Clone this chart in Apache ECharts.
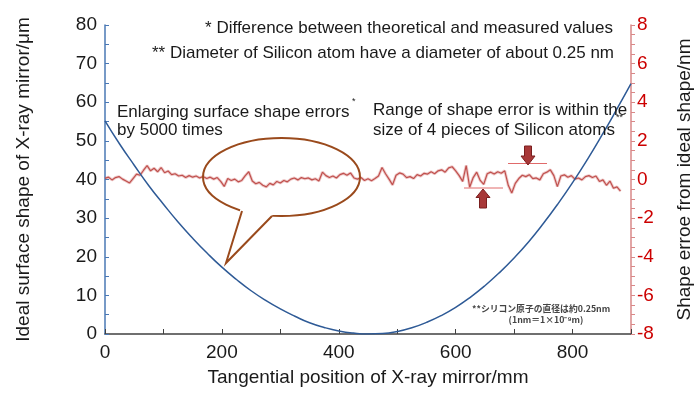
<!DOCTYPE html>
<html>
<head>
<meta charset="utf-8">
<script src="https://cdn.jsdelivr.net/npm/echarts@6/dist/echarts.min.js"></script>
<style>
  html, body { margin: 0; padding: 0; background: #fff; }
  #main { width: 694px; height: 396px; }
</style>
</head>
<body>
<div id="main"></div>
<script>
// ideal mirror shape (um)
const shapePos = [0, 25, 50, 75, 100, 125, 150, 175, 200, 225, 250, 275, 300, 325, 350, 375, 400, 425, 450,
  475, 500, 525, 550, 575, 600, 625, 650, 675, 700, 725, 750, 775, 800, 825, 850, 875, 900];
const idealShape = [55.2, 49.2, 43.7, 38.4, 33.6, 29.0, 24.8, 20.9, 17.3, 14.1, 11.2, 8.7, 6.5, 4.6, 2.9, 1.7, 0.8, 0.25, 0.0,
  0.12, 0.65, 1.6, 3.0, 4.75, 6.9, 9.5, 12.5, 15.9, 19.7, 23.9, 28.6, 33.7, 39.2, 45.1, 51.4, 58.0, 64.8];

// shape error (nm), one reading every 6 mm starting at 0
const errStep = 6;
const shapeError = [
  0.06, 0.12, -0.02, 0.10, 0.15, 0.02, -0.08, -0.18, 0.05, 0.28, 0.22, 0.48, 0.72, 0.45, 0.58, 0.40, 0.62, 0.35, 0.44, 0.25,
  0.30, 0.18, 0.22, 0.10, 0.20, 0.12, 0.18, 0.08, 0.16, 0.05, 0.12, 0.02, 0.10, -0.10, -0.36, 0.05, -0.05, 0.02, -0.12, -0.05,
  0.20, 0.40, -0.08, -0.22, -0.15, -0.30, -0.38, -0.20, -0.28, -0.10, -0.18, -0.05, -0.12, 0.02, 0.08, -0.02, 0.10, 0.04, 0.08, -0.02,
  0.04, -0.08, 0.38, 0.20, 0.10, 0.18, 0.08, 0.25, 0.32, 0.22, 0.34, 0.08, 0.02, 0.10, -0.05, 0.04, -0.06, 0.05, 0.18, 0.62,
  0.30, 0.02, -0.28, 0.22, 0.34, 0.28, 0.10, 0.15, 0.05, 0.25, 0.18, 0.32, 0.28, 0.40, 0.30, 0.45, 0.50, 0.38, 0.60, 0.66,
  0.45, 0.20, -0.10, 0.72, -0.40, 0.10, 0.38, -0.05, -0.25, 0.30, 0.38, 0.28, 0.40, 0.32, 0.45, -0.30, -0.70, -0.20, 0.05, 0.22,
  0.15, 0.25, 0.05, 0.08, -0.02, 0.30, 0.38, 0.50, 0.20, -0.37, 0.18, 0.24, 0.12, 0.20, 0.02, 0.08, -0.02, 0.15, 0.20, 0.10,
  0.18, -0.10, -0.02, -0.30, -0.08, -0.45, -0.38, -0.60
];

const xTicks = [0, 200, 400, 600, 800];

const shapeData = shapePos.map((x, i) => [x, idealShape[i]]);
const errData = shapeError.map((v, i) => [i * errStep, v]);

const font = 'Liberation Sans, Arial, sans-serif';
const myChart = echarts.init(document.getElementById('main'));

const brown = '#9a4a1c';
const arrowFill = '#a83838';
const arrowEdge = '#7a1e1e';

function txt(x, y, text, size, align, extra) {
  return {
    type: 'text', z: 100,
    style: Object.assign({
      x: x, y: y, text: text, fill: '#1a1a1a',
      font: size + 'px ' + font, align: align || 'left', verticalAlign: 'middle'
    }, extra || {})
  };
}

const option = {
  animation: false,
  grid: { left: 105, right: 63, top: 25, bottom: 62, outerBoundsMode: 'none' },
  xAxis: {
    type: 'value', min: 0, max: 900, interval: 100,
    name: 'Tangential position of X-ray mirror/mm',
    nameLocation: 'middle', nameGap: 34,
    nameTextStyle: { fontSize: 19, color: '#1a1a1a', fontFamily: font },
    axisLine: { lineStyle: { color: '#404040', width: 1.5 } },
    axisTick: { inside: true, length: 5, lineStyle: { color: '#404040' } },
    axisLabel: {
      fontSize: 19, color: '#1a1a1a', fontFamily: font, margin: 9,
      formatter: v => (xTicks.indexOf(v) >= 0 ? String(v) : '')
    },
    splitLine: { show: false }
  },
  yAxis: [
    {
      type: 'value', min: 0, max: 80, interval: 10,
      name: 'Ideal surface shape of X-ray mirror/\u03bcm',
      nameLocation: 'middle', nameGap: 72,
      nameTextStyle: { fontSize: 19, color: '#1a1a1a', fontFamily: font },
      axisLine: { show: true, lineStyle: { color: '#4a78b5', width: 1.5 } },
      axisTick: { show: true, inside: true, length: 4, lineStyle: { color: '#4a78b5' } },
      minorTick: { show: true, splitNumber: 2, length: 4, lineStyle: { color: '#4a78b5' } },
      axisLabel: { fontSize: 19, color: '#1a1a1a', fontFamily: font, margin: 8 },
      splitLine: { show: false }
    },
    {
      type: 'value', min: -8, max: 8, interval: 2, position: 'right',
      name: 'Shape erroe from ideal shape/nm',
      nameLocation: 'middle', nameGap: 44,
      nameTextStyle: { fontSize: 19, color: '#1a1a1a', fontFamily: font },
      axisLine: { show: true, lineStyle: { color: '#d98888', width: 1.5 } },
      axisTick: { show: true, inside: false, length: 4, lineStyle: { color: '#d98888' } },
      minorTick: { show: true, splitNumber: 4, length: 4, lineStyle: { color: '#d98888' } },
      axisLabel: { fontSize: 19, color: '#cc0000', fontFamily: font, margin: 6 },
      splitLine: { show: false }
    }
  ],
  series: [
    {
      name: 'halo', type: 'line', yAxisIndex: 1, data: errData,
      symbol: 'none', silent: true,
      lineStyle: { color: 'rgba(200,80,80,0.3)', width: 3 }
    },
    {
      name: 'shape error', type: 'line', yAxisIndex: 1, data: errData,
      symbol: 'none',
      lineStyle: { color: '#c0504d', width: 1.2 }
    },
    {
      name: 'ideal shape', type: 'line', yAxisIndex: 0, data: shapeData,
      symbol: 'none', smooth: true,
      lineStyle: { color: '#2e5a96', width: 1.5 }
    }
  ],
  graphic: [
    txt(613, 28, '* Difference between theoretical and measured values', 17, 'right'),
    txt(614, 53, '** Diameter of Silicon atom have a diameter of about 0.25 nm', 17, 'right'),
    txt(117, 112, 'Enlarging surface shape errors', 17, 'left'),
    txt(352, 102, '*', 9, 'left'),
    txt(117, 130, 'by 5000 times', 17, 'left'),
    txt(373, 110, 'Range of shape error is within the', 17, 'left'),
    txt(373, 130, 'size of 4 pieces of Silicon atoms', 17, 'left'),
    txt(616, 118, '**', 9, 'left'),
    txt(472, 309, '**シリコン原子の直径は約0.25nm', 9, 'left',
      { fill: '#444', font: 'bold 8.8px "Noto Sans CJK JP", sans-serif' }),
    txt(546, 320, '(1nm＝1×10⁻⁹m)', 9, 'center',
      { fill: '#444', font: 'bold 8.8px "Noto Sans CJK JP", sans-serif' }),
    // speech bubble
    {
      type: 'ellipse', z: 90,
      shape: { cx: 281.5, cy: 177, rx: 78.5, ry: 39 },
      style: { fill: null, stroke: brown, lineWidth: 2 }
    },
    {
      type: 'polygon', z: 91,
      shape: { points: [[242, 209], [228, 258], [272, 213.5]] },
      style: { fill: '#fff', stroke: '#fff', lineWidth: 3 }
    },
    {
      type: 'polyline', z: 92,
      shape: { points: [[242, 211], [226, 263], [272, 216]] },
      style: { fill: null, stroke: brown, lineWidth: 2 }
    },
    // range markers
    {
      type: 'line', z: 93,
      shape: { x1: 508, y1: 163.5, x2: 547, y2: 163.5 },
      style: { stroke: '#e06a6a', lineWidth: 1 }
    },
    {
      type: 'line', z: 93,
      shape: { x1: 464, y1: 188, x2: 503, y2: 188 },
      style: { stroke: '#e06a6a', lineWidth: 1 }
    },
    {
      type: 'polygon', z: 94,
      shape: { points: [[524.5, 146], [531.5, 146], [531.5, 156], [535, 156], [528, 165], [521, 156], [524.5, 156]] },
      style: { fill: arrowFill, stroke: arrowEdge, lineWidth: 1 }
    },
    {
      type: 'polygon', z: 94,
      shape: { points: [[483, 189], [490, 197.5], [486.5, 197.5], [486.5, 208], [479.5, 208], [479.5, 197.5], [476, 197.5]] },
      style: { fill: arrowFill, stroke: arrowEdge, lineWidth: 1 }
    }
  ]
};

myChart.setOption(option);
</script>
</body>
</html>
